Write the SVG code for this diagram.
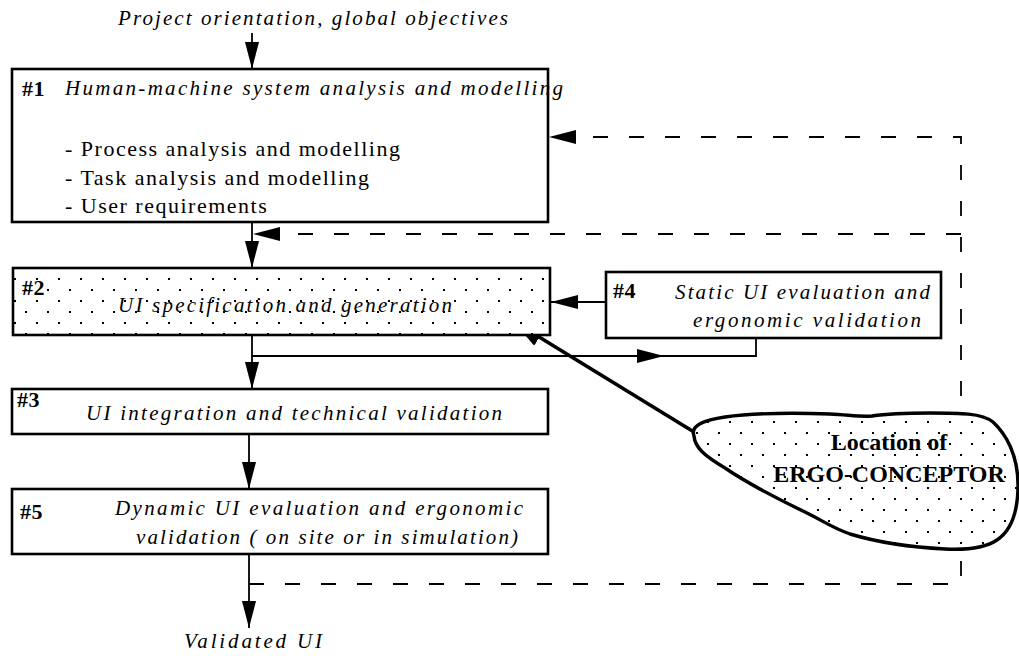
<svg xmlns="http://www.w3.org/2000/svg" width="1019" height="656" viewBox="0 0 1019 656">
<defs>
<style>
.box{fill:#fff;stroke:#000;stroke-width:2.6}
.dotted{fill:url(#dots);stroke:#000;stroke-width:2.6}
.it{font-family:"Liberation Serif","Times New Roman",serif;font-style:italic;font-size:21px;fill:#000}
.rg{font-family:"Liberation Serif","Times New Roman",serif;font-size:22px;letter-spacing:1.5px;fill:#000}
.bd{font-family:"Liberation Serif","Times New Roman",serif;font-weight:bold;font-size:22px;letter-spacing:0.5px;fill:#000}
.big{font-family:"Liberation Serif","Times New Roman",serif;font-weight:bold;font-size:24px;fill:#000}
.ln{fill:none;stroke:#000;stroke-width:1.8}
.dash{fill:none;stroke:#000;stroke-width:1.8;stroke-dasharray:15 21}
</style>
<pattern id="dots" patternUnits="userSpaceOnUse" width="22" height="22" x="3" y="3">
<rect width="22" height="22" fill="#fff"/>
<rect x="0" y="0" width="2" height="2" fill="#000"/>
<rect x="11" y="11" width="2" height="2" fill="#000"/>
</pattern>
<marker id="ah" markerUnits="userSpaceOnUse" markerWidth="28" markerHeight="14" refX="27" refY="7" orient="auto">
<path d="M0,0 L27,7 L0,14 z" fill="#000"/>
</marker>
<marker id="ahb" markerUnits="userSpaceOnUse" markerWidth="32" markerHeight="20" refX="31" refY="10" orient="auto">
<path d="M0,0 L31,10 L0,20 z" fill="#000"/>
</marker>
</defs>
<rect width="1019" height="656" fill="#fff"/>

<g id="connectors">
<path class="ln" d="M252,33 V69" marker-end="url(#ah)"/>
<path class="ln" d="M252,222 V268" marker-end="url(#ah)"/>
<path class="dash" d="M249,584 H961 V137 H549" marker-end="url(#ah)"/>
<path class="dash" d="M961,234 H253" marker-end="url(#ah)"/>
<path class="ln" d="M252,335 V389" marker-end="url(#ah)"/>
<path class="ln" d="M252,356 H664" marker-end="url(#ah)"/>
<path class="ln" d="M660,356 H756 V338"/>
<path class="ln" d="M606,302 H551" marker-end="url(#ah)"/>
<path class="ln" d="M249,434 V489" marker-end="url(#ah)"/>
<path class="ln" d="M249,554 V628" marker-end="url(#ah)"/>
<path fill="none" stroke="#000" stroke-width="3.6" d="M694,432 L513,321" marker-end="url(#ahb)"/>
</g>

<g id="input">
<text class="it" x="118" y="25" textLength="390" lengthAdjust="spacing">Project orientation, global objectives</text>
</g>

<g id="node1">
<rect class="box" x="12" y="69" width="536" height="153"/>
<text class="bd" x="22" y="96">#1</text>
<text class="it" x="65" y="95" textLength="498" lengthAdjust="spacing">Human-machine system analysis and modelling</text>
<text class="rg" x="65" y="156">- Process analysis and modelling</text>
<text class="rg" x="65" y="185">- Task analysis and modelling</text>
<text class="rg" x="65" y="213">- User requirements</text>
</g>

<g id="node2">
<rect class="dotted" x="13" y="268" width="537" height="67"/>
<text class="bd" x="22" y="295">#2</text>
<text class="it" x="118" y="312" textLength="334" lengthAdjust="spacing">UI specification and generation</text>
</g>

<g id="node4">
<rect class="box" x="606" y="272" width="335" height="66"/>
<text class="bd" x="613" y="298">#4</text>
<text class="it" x="675" y="299" textLength="255" lengthAdjust="spacing">Static UI evaluation and</text>
<text class="it" x="693" y="327" textLength="228" lengthAdjust="spacing">ergonomic validation</text>
</g>

<g id="node3">
<rect class="box" x="12" y="389" width="536" height="45"/>
<text class="bd" x="17" y="407">#3</text>
<text class="it" x="86" y="420" textLength="416" lengthAdjust="spacing">UI integration and technical validation</text>
</g>

<g id="node5">
<rect class="box" x="12" y="489" width="536" height="65"/>
<text class="bd" x="20" y="519">#5</text>
<text class="it" x="115" y="515" textLength="408" lengthAdjust="spacing">Dynamic UI evaluation and ergonomic</text>
<text class="it" x="136" y="544" textLength="382" lengthAdjust="spacing">validation ( on site or in simulation)</text>
</g>

<g id="output">
<text class="it" x="184" y="648" textLength="138" lengthAdjust="spacing">Validated UI</text>
</g>

<g id="location">
<path fill="url(#dots)" stroke="#000" stroke-width="3.4" d="M694,436 C690,425 705,420 725,417 C760,412 800,413 830,414 C850,415 860,417 872,416 C885,414 900,413 930,413 C960,413 982,413 993,422 C1006,434 1018,455 1018,485 C1018,510 1012,530 997,540 C985,548 965,550 945,549 C905,547 870,540 850,534 C830,527 822,520 805,512 C780,500 750,485 725,468 C705,456 695,448 694,436 Z"/>
<text class="big" x="889" y="450" text-anchor="middle">Location of</text>
<text class="big" x="889" y="482" text-anchor="middle">ERGO-CONCEPTOR</text>
</g>
</svg>
